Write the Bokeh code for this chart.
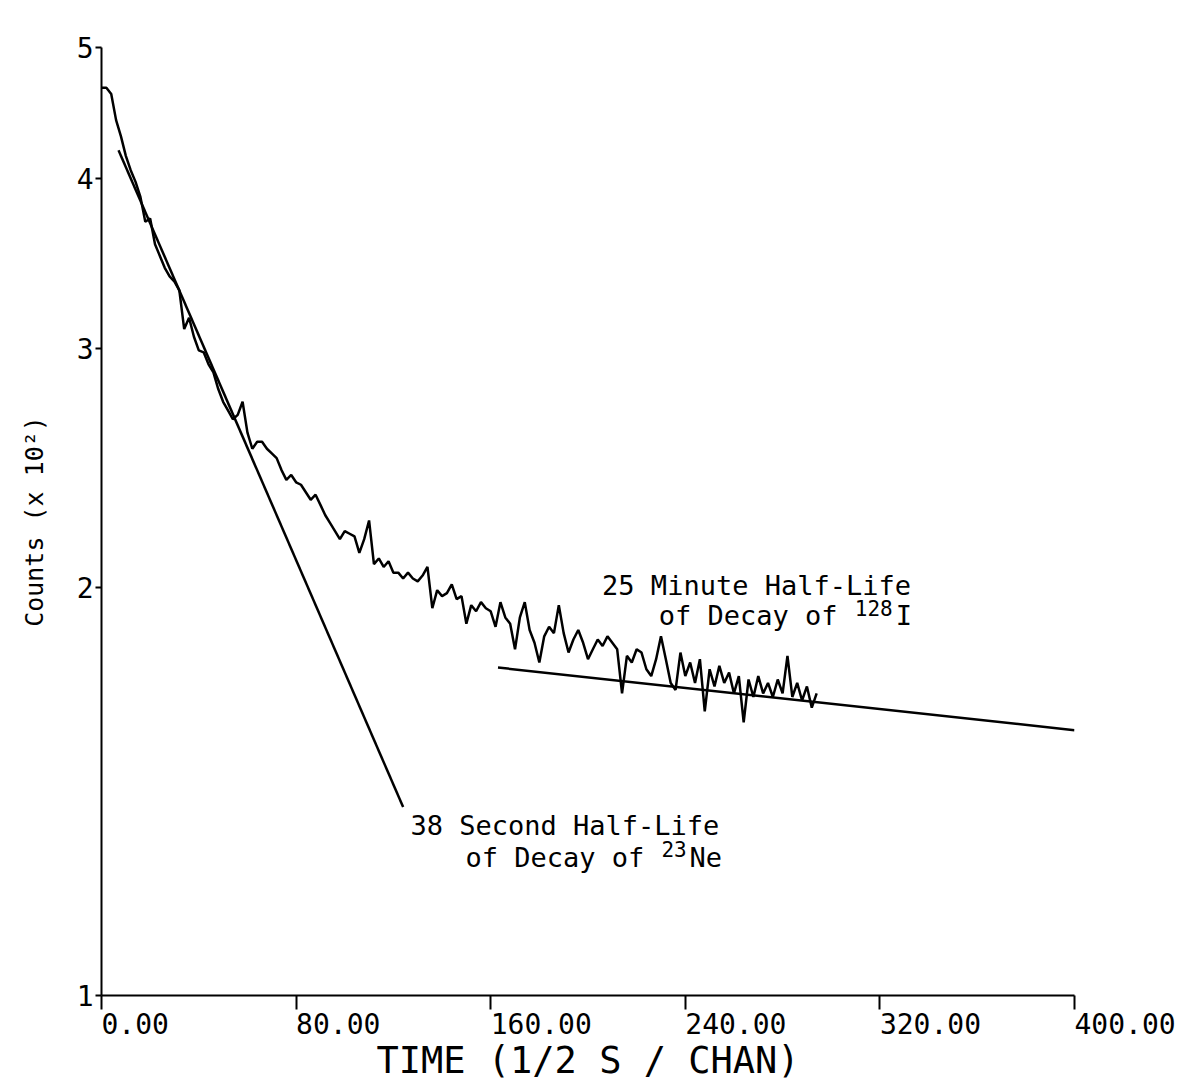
from bokeh.plotting import figure
from bokeh.models import FixedTicker, Range1d
from bokeh.embed import file_html
from bokeh.resources import INLINE
from bokeh.core.properties import value

# ---- data (counts in units of 10^2, one value every 2 channels) ----
channel = list(range(0, 296, 2))
counts = [
    4.67, 4.67, 4.62, 4.42, 4.30, 4.16, 4.06, 3.98, 3.88, 3.72,
    3.74, 3.58, 3.51, 3.44, 3.39, 3.36, 3.31, 3.10, 3.16, 3.06,
    2.99, 2.98, 2.92, 2.88, 2.80, 2.74, 2.70, 2.66, 2.68, 2.74,
    2.60, 2.53, 2.56, 2.56, 2.53, 2.51, 2.49, 2.44, 2.40, 2.42,
    2.39, 2.38, 2.35, 2.32, 2.34, 2.30, 2.26, 2.23, 2.20, 2.17,
    2.20, 2.19, 2.18, 2.12, 2.17, 2.24, 2.08, 2.10, 2.07, 2.09,
    2.05, 2.05, 2.03, 2.05, 2.03, 2.02, 2.04, 2.07, 1.93, 1.99,
    1.97, 1.98, 2.01, 1.96, 1.97, 1.88, 1.94, 1.92, 1.95, 1.93,
    1.92, 1.87, 1.95, 1.90, 1.88, 1.80, 1.90, 1.95, 1.86, 1.82,
    1.76, 1.84, 1.87, 1.85, 1.94, 1.85, 1.79, 1.83, 1.86, 1.82,
    1.77, 1.80, 1.83, 1.81, 1.84, 1.82, 1.80, 1.67, 1.78, 1.76,
    1.80, 1.79, 1.74, 1.72, 1.77, 1.84, 1.77, 1.70, 1.68, 1.79,
    1.72, 1.76, 1.70, 1.77, 1.62, 1.74, 1.69, 1.75, 1.70, 1.73,
    1.67, 1.72, 1.59, 1.71, 1.66, 1.72, 1.67, 1.70, 1.66, 1.71,
    1.67, 1.78, 1.66, 1.70, 1.65, 1.69, 1.63, 1.67,
]

# fitted decay lines (end points)
ne_fit_x = [7.0, 124.0]
ne_fit_y = [4.20, 1.377]
i_fit_x = [163.0, 400.0]
i_fit_y = [1.745, 1.569]

x_ticks = [0, 80, 160, 240, 320, 400]
x_tick_labels = ["0.00", "80.00", "160.00", "240.00", "320.00", "400.00"]
y_ticks = [1, 2, 3, 4, 5]
y_tick_labels = ["1", "2", "3", "4", "5"]

MONO = "DejaVu Sans Mono"

p = figure(
    frame_width=973, frame_height=948,
    x_range=Range1d(0, 400), y_range=Range1d(1, 5),
    y_axis_type="log",
    output_backend="svg", toolbar_location=None,
    min_border_left=101, min_border_top=47,
    min_border_right=103, min_border_bottom=88,
    background_fill_color="white", border_fill_color="white",
)
p.outline_line_color = None
p.grid.visible = False

# x axis
xa = p.xaxis[0]
xa.ticker = FixedTicker(ticks=x_ticks, minor_ticks=[])
xa.major_label_overrides = {t: l for t, l in zip(x_ticks, x_tick_labels)}
xa.major_label_orientation = -0.0001   # left-aligned labels starting at the tick
xa.major_label_text_font = MONO
xa.major_label_text_font_size = "28px"
xa.major_label_text_color = "black"
xa.major_label_standoff = 14
xa.axis_label = "TIME (1/2 S / CHAN)"
xa.axis_label_text_font = MONO
xa.axis_label_text_font_size = "37px"
xa.axis_label_text_font_style = "normal"
xa.axis_label_text_color = "black"
xa.axis_label_standoff = -9
xa.major_tick_out = 14
xa.major_tick_in = 0
xa.minor_tick_line_color = None
xa.axis_line_width = 2
xa.major_tick_line_width = 2
xa.axis_line_color = "black"
xa.major_tick_line_color = "black"

# y axis (log)
ya = p.yaxis[0]
ya.ticker = FixedTicker(ticks=y_ticks, minor_ticks=[])
ya.major_label_overrides = {t: l for t, l in zip(y_ticks, y_tick_labels)}
ya.axis_label = "Counts (x 10\u00b2)"
ya.axis_label_text_font = MONO
ya.axis_label_text_font_size = "25px"
ya.axis_label_text_font_style = "normal"
ya.axis_label_text_color = "black"
ya.axis_label_standoff = 25
ya.major_label_text_font = MONO
ya.major_label_text_font_size = "28px"
ya.major_label_text_color = "black"
ya.major_label_standoff = 2
ya.major_tick_out = 6
ya.major_tick_in = 0
ya.minor_tick_line_color = None
ya.axis_line_width = 2
ya.major_tick_line_width = 2
ya.axis_line_color = "black"
ya.major_tick_line_color = "black"

# data and fits
p.line(channel, counts, line_color="black", line_width=2.5)
p.line(ne_fit_x, ne_fit_y, line_color="black", line_width=2.5)
p.line(i_fit_x, i_fit_y, line_color="black", line_width=2.5)

# annotations
def txt(x, y, t, size, dx=0, dy=0):
    p.text(x=[x], y=[y], text=[t], x_offset=dx, y_offset=dy,
           text_font=value(MONO), text_font_size=size,
           text_color="black", text_align="left", text_baseline="alphabetic")

txt(127.0, 1.335, "38 Second Half-Life", "27px")
txt(149.6, 1.264, "of Decay of", "27px")
txt(149.6, 1.264, "23", "21px", dx=196, dy=-9)
txt(149.6, 1.264, "Ne", "27px", dx=224)

txt(205.8, 2.006, "25 Minute Half-Life", "27px")
txt(229.1, 1.906, "of Decay of", "27px")
txt(229.1, 1.906, "128", "21px", dx=196, dy=-8)
txt(229.1, 1.906, "I", "27px", dx=237)

open("out.html", "w").write(file_html(p, INLINE))
